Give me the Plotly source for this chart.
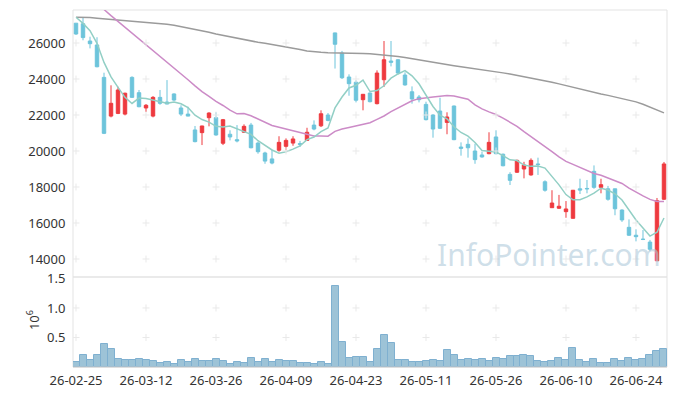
import plotly.graph_objects as go

DATES = [
    "26-02-25", "26-02-26", "26-02-27",
    "26-03-03", "26-03-04", "26-03-05", "26-03-06", "26-03-09", "26-03-10", "26-03-11",
    "26-03-12", "26-03-13", "26-03-16", "26-03-17", "26-03-18", "26-03-19", "26-03-20",
    "26-03-23", "26-03-24", "26-03-25", "26-03-26", "26-03-27", "26-03-30", "26-03-31",
    "26-04-01", "26-04-02", "26-04-03", "26-04-06", "26-04-07", "26-04-08", "26-04-09",
    "26-04-10", "26-04-13", "26-04-14", "26-04-15", "26-04-16", "26-04-17", "26-04-20",
    "26-04-21", "26-04-22", "26-04-23", "26-04-24", "26-04-27", "26-04-28", "26-04-29",
    "26-04-30", "26-05-04", "26-05-06", "26-05-07", "26-05-08", "26-05-11", "26-05-12",
    "26-05-13", "26-05-14", "26-05-15", "26-05-18", "26-05-19", "26-05-20", "26-05-21",
    "26-05-22", "26-05-26", "26-05-27", "26-05-28", "26-05-29", "26-06-01", "26-06-02",
    "26-06-04", "26-06-05", "26-06-08", "26-06-09", "26-06-10", "26-06-11", "26-06-12",
    "26-06-15", "26-06-16", "26-06-17", "26-06-18", "26-06-19", "26-06-22", "26-06-23",
    "26-06-24", "26-06-25", "26-06-26", "26-06-29", "26-06-30",
]

OPEN = [27100, 27070, 26110, 25890, 24090, 21940, 22090, 22050, 24090, 23240,
        22390, 21940, 22980, 22720, 23170, 22390, 22050, 21170, 21020, 21850,
        21850, 20430, 20930, 20630, 21040, 21440, 20440, 19890, 19560, 20040,
        20260, 20440, 20410, 20590, 21440, 21400, 22000, 26560, 25440, 24110,
        23820, 22850, 23220, 22630, 23960, 25000, 25070, 24220, 23290, 23000,
        22590, 22000, 22220, 21590, 22500, 20220, 20370, 20000, 19780, 19850,
        20780, 19820, 18700, 18820, 19000, 18670, 19280, 18290, 16850, 16820,
        16630, 16260, 17900, 17920, 18870, 17980, 17900, 17900, 16720, 15760,
        15320, 15100, 14940, 13900, 17320]
HIGH = [27100, 27400, 26350, 26320, 24350, 23650, 23570, 23240, 24150, 23390,
        22610, 23050, 23390, 23940, 23200, 22540, 22460, 21390, 21400, 22150,
        22150, 21780, 21150, 21440, 21480, 21560, 20520, 19960, 20070, 20820,
        20700, 20820, 20560, 21290, 21700, 22260, 22110, 26570, 25560, 24260,
        23930, 23150, 23250, 24480, 26110, 26110, 25100, 24370, 23590, 23110,
        22740, 22040, 22960, 22150, 22520, 20480, 20700, 20400, 19960, 21040,
        21150, 19860, 18820, 19520, 19400, 19590, 19630, 18370, 17820, 17560,
        17220, 17830, 18460, 18390, 19200, 18460, 18060, 17900, 16760, 16200,
        15650, 15610, 15060, 17390, 19390]
LOW = [26450, 26150, 25700, 24650, 20940, 21870, 22050, 21980, 22950, 22430,
       22170, 21870, 22570, 22600, 22780, 21940, 21930, 20480, 20330, 21370,
       20850, 20330, 20590, 20480, 21000, 20150, 19850, 19290, 19260, 19960,
       20040, 20290, 20220, 20560, 21150, 21330, 21650, 24580, 24000, 23070,
       22700, 22260, 22700, 22590, 23560, 24700, 24260, 23630, 22630, 22700,
       21700, 20740, 21220, 20930, 20600, 19740, 19630, 19290, 19630, 19820,
       19820, 19150, 18110, 18780, 18480, 18630, 18670, 17740, 16850, 16780,
       16290, 16250, 17610, 17650, 17900, 17650, 17240, 16430, 16060, 15280,
       14980, 15050, 14430, 13900, 17280]
CLOSE = [26500, 26300, 25960, 24680, 20980, 22650, 23390, 23210, 22980, 22460,
         22540, 22980, 22650, 22610, 22830, 22050, 21940, 20520, 21390, 22110,
         20890, 21740, 20780, 20560, 21370, 20180, 19960, 19440, 19330, 20480,
         20590, 20670, 20370, 21040, 21220, 22070, 21700, 25930, 24070, 23740,
         22820, 23150, 22740, 24330, 25070, 24930, 24330, 23670, 22890, 22850,
         21740, 21220, 21260, 21890, 20630, 20150, 20180, 19520, 19670, 20480,
         19850, 19180, 18370, 19480, 19220, 19480, 19250, 17820, 17110, 16930,
         16780, 17820, 17830, 17900, 17980, 18130, 17320, 16790, 16170, 15320,
         15240, 15090, 14540, 17240, 19280]
VOLUME = [93000, 195000, 127000, 207000, 398000, 313000, 144000, 127000, 127000, 144000,
          127000, 110000, 76000, 93000, 59000, 127000, 93000, 144000, 110000, 110000,
          144000, 110000, 59000, 93000, 76000, 161000, 93000, 144000, 93000, 127000,
          110000, 110000, 76000, 76000, 59000, 93000, 59000, 1381000, 432000, 161000,
          175000, 175000, 93000, 297000, 546000, 410000, 127000, 127000, 93000, 93000,
          110000, 127000, 110000, 280000, 195000, 127000, 144000, 127000, 144000, 110000,
          161000, 144000, 178000, 178000, 195000, 178000, 110000, 93000, 110000, 161000,
          127000, 330000, 127000, 93000, 144000, 70000, 70000, 144000, 110000, 161000,
          127000, 144000, 195000, 263000, 310000]
MA5 = [27430, 27090, 26680, 25980, 24920, 24114, 23532, 22982, 22642, 22938,
       22916, 22834, 22722, 22648, 22722, 22624, 22416, 21990, 21746, 21602,
       21370, 21330, 21382, 21216, 21068, 20926, 20570, 20302, 20056, 19878,
       19960, 20102, 20288, 20630, 20778, 21074, 21280, 22392, 22998, 23502,
       23652, 23942, 23304, 23356, 23622, 24044, 24280, 24466, 24178, 23734,
       23096, 22474, 21992, 21792, 21348, 21030, 20822, 20474, 20030, 20000,
       19940, 19740, 19510, 19472, 19220, 19146, 19160, 19050, 18576, 18118,
       17578, 17292, 17294, 17452, 17662, 17932, 17832, 17624, 17278, 16746,
       16168, 15722, 15272, 15486, 16278]
MA20 = [29100, 28800, 28470, 28150, 27860, 27520, 27200, 26880, 26540, 26220,
        25910, 25610, 25270, 24960, 24630, 24300, 23960, 23620, 23300, 23037,
        22756, 22528, 22269, 22063, 22083, 21959, 21788, 21599, 21417, 21318,
        21220, 21105, 20991, 20912, 20832, 20833, 20821, 21091, 21225, 21307,
        21403, 21474, 21572, 21760, 21945, 22183, 22401, 22613, 22791, 22909,
        22967, 22994, 23039, 23081, 23052, 22956, 22880, 22559, 22339, 22176,
        22028, 21829, 21611, 21368, 21076, 20803, 20549, 20257, 19968, 19672,
        19424, 19254, 19082, 18883, 18750, 18649, 18506, 18370, 18195, 17937,
        17706, 17502, 17310, 17198, 17201]
MA_LONG = [27430, 27430, 27420, 27380, 27350, 27320, 27260, 27240, 27220, 27180,
           27140, 27100, 27070, 27040, 26990, 26920, 26850, 26760, 26690, 26600,
           26500, 26420, 26330, 26250, 26180, 26110, 26040, 25980, 25920, 25860,
           25790, 25720, 25640, 25560, 25510, 25480, 25460, 25460, 25450, 25440,
           25430, 25420, 25400, 25370, 25330, 25290, 25250, 25190, 25120, 25050,
           24980, 24920, 24860, 24800, 24740, 24680, 24630, 24570, 24520, 24460,
           24400, 24340, 24280, 24210, 24130, 24060, 23990, 23910, 23820, 23730,
           23630, 23530, 23440, 23340, 23250, 23170, 23090, 23010, 22930, 22840,
           22730, 22600, 22450, 22280, 22120]

PRICE_TICKS = [14000, 16000, 18000, 20000, 22000, 24000, 26000]
VOL_TICKS = [500000, 1000000, 1500000]
VOL_TICK_TEXT = ["0.5", "1.0", "1.5"]
X_TICKS = DATES[::10]

RED = "#ee3a3f"
BLUE = "#6dc4db"
FONT = "Noto Sans"
VOL_SPLIT = 0.2521

fig = go.Figure()

fig.add_trace(go.Scatter(x=DATES, y=MA_LONG, mode="lines",
                         line=dict(color="#9b9b9b", width=1.5), xaxis="x", yaxis="y"))
fig.add_trace(go.Scatter(x=DATES, y=MA20, mode="lines",
                         line=dict(color="#cc8bc7", width=1.5), xaxis="x", yaxis="y"))
fig.add_trace(go.Scatter(x=DATES, y=MA5, mode="lines",
                         line=dict(color="#92cfc5", width=1.5), xaxis="x", yaxis="y"))

fig.add_trace(go.Candlestick(
    x=DATES, open=OPEN, high=HIGH, low=LOW, close=CLOSE,
    increasing=dict(line=dict(color=RED, width=1), fillcolor=RED),
    decreasing=dict(line=dict(color=BLUE, width=1), fillcolor=BLUE),
    whiskerwidth=0, xaxis="x", yaxis="y"))

fig.add_trace(go.Bar(
    x=DATES, y=VOLUME,
    marker=dict(color="#9dc3d7", line=dict(color="#7fb0d0", width=1)),
    xaxis="x", yaxis="y2"))

# grid crosses (price panel)
fig.add_trace(go.Scatter(
    x=[d for d in X_TICKS for _ in PRICE_TICKS],
    y=[p for _ in X_TICKS for p in PRICE_TICKS],
    mode="markers", hoverinfo="skip",
    marker=dict(symbol="cross-thin", size=5, line=dict(color="#e9e9e9", width=1)),
    xaxis="x", yaxis="y"))
# grid crosses (volume panel)
fig.add_trace(go.Scatter(
    x=[d for d in X_TICKS for _ in VOL_TICKS[:2]],
    y=[v for _ in X_TICKS for v in VOL_TICKS[:2]],
    mode="markers", hoverinfo="skip",
    marker=dict(symbol="cross-thin", size=5, line=dict(color="#e9e9e9", width=1)),
    xaxis="x", yaxis="y2"))

fig.update_layout(
    template="none",
    width=677, height=396,
    margin=dict(l=73, r=10, t=10, b=29, autoexpand=False),
    paper_bgcolor="white", plot_bgcolor="white",
    showlegend=False, bargap=0,
    font=dict(family=FONT, size=13, color="#333333"),
    xaxis=dict(type="category", categoryorder="array", categoryarray=DATES,
               anchor="y2", range=[-0.43, 84.43], automargin=False,
               tickmode="array", tickvals=X_TICKS, ticktext=X_TICKS, tickangle=0,
               showgrid=False, zeroline=False, showline=False,
               ticks="outside", ticklen=1, tickcolor="rgba(0,0,0,0)",
               rangeslider=dict(visible=False)),
    yaxis=dict(domain=[VOL_SPLIT, 1], range=[13000, 27833], automargin=False,
               tickmode="array", tickvals=PRICE_TICKS, tickformat="d",
               showgrid=False, zeroline=False, showline=False,
               ticks="outside", ticklen=4, tickcolor="rgba(0,0,0,0)"),
    yaxis2=dict(domain=[0, VOL_SPLIT], range=[0, 1525000], automargin=False,
                tickmode="array", tickvals=VOL_TICKS, ticktext=VOL_TICK_TEXT,
                showgrid=False, zeroline=False, showline=False,
                ticks="outside", ticklen=4, tickcolor="rgba(0,0,0,0)"),
    shapes=[
        dict(type="rect", xref="paper", yref="paper", x0=0, x1=1, y0=VOL_SPLIT, y1=1,
             line=dict(color="#e3e3e3", width=1), layer="below"),
        dict(type="rect", xref="paper", yref="paper", x0=0, x1=1, y0=0, y1=VOL_SPLIT,
             line=dict(color="#e3e3e3", width=1), layer="below"),
        dict(type="line", xref="paper", yref="paper", x0=0, x1=1, y0=0, y1=0,
             line=dict(color="#cccccc", width=1)),
    ],
    annotations=[
        dict(text="InfoPointer.com", xref="paper", yref="paper", x=0.802, y=0.3165,
             xanchor="center", yanchor="middle", showarrow=False,
             font=dict(family=FONT, size=30, color="rgba(175,202,218,0.6)")),
        dict(text="10<sup>6</sup>", xref="paper", yref="paper", x=-0.067, y=0.132,
             xanchor="center", yanchor="middle", showarrow=False, textangle=-90,
             font=dict(family=FONT, size=13, color="#333333")),
    ],
)

fig.write_html("out.html")
